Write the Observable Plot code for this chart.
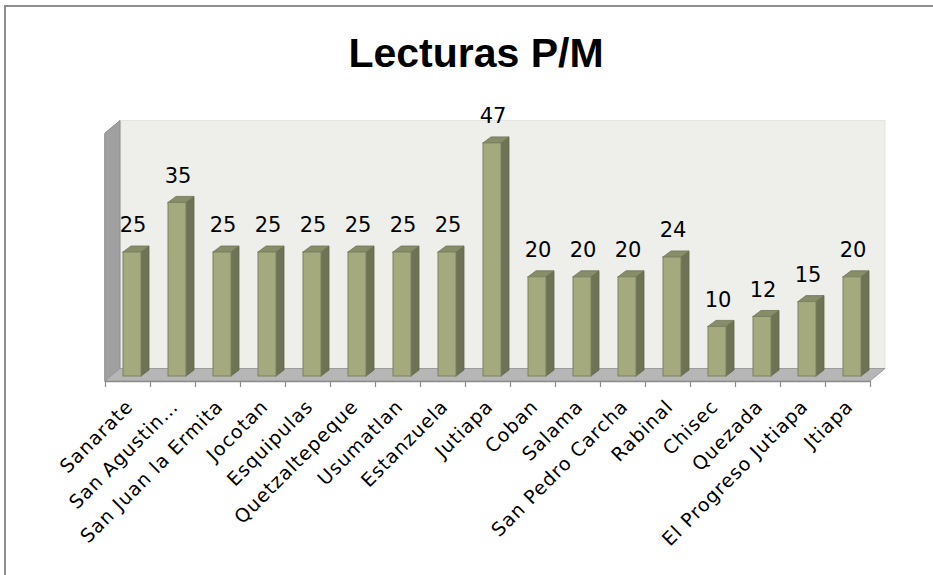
<!DOCTYPE html>
<html><head><meta charset="utf-8">
<script src="https://cdn.jsdelivr.net/npm/d3@7"></script>
<script src="https://cdn.jsdelivr.net/npm/@observablehq/plot@0.6"></script>
<style>
html,body{margin:0;padding:0;background:#fff;overflow:hidden;width:933px;height:575px;}
#vline{position:absolute;left:4px;top:5px;width:2px;height:570px;background:#8e8e8e;}
#hline{position:absolute;left:4px;top:5px;width:929px;height:2px;background:#8e8e8e;}
#title{height:90px;position:relative;}
#title span{position:absolute;left:0;width:952px;text-align:center;top:33px;font:bold 41px/41px "Liberation Sans",Arial,sans-serif;color:#000;white-space:nowrap;}
#chart svg{display:block;}
</style></head><body>
<div id="vline"></div><div id="hline"></div>
<div id="title"><span>Lecturas P/M</span></div>
<div id="chart"></div>
<script>
const categories = ["Sanarate","San Agustin…","San Juan la Ermita","Jocotan","Esquipulas","Quetzaltepeque","Usumatlan","Estanzuela","Jutiapa","Coban","Salama","San Pedro Carcha","Rabinal","Chisec","Quezada","El Progreso Jutiapa","Jtiapa"];
const values = [25,35,25,25,25,25,25,25,47,20,20,20,24,10,12,15,20];
const yMax = 50;

const W = 933, H = 485;
const X0 = 105, X1 = 870, Y0 = 291, YTOP = 43;
const n = categories.length;
const kx = (X1 - X0) / n;
const ky = (Y0 - YTOP) / yMax;
const px2x = p => p / kx, px2y = p => p / ky;

const wallDX = px2x(15), wallDY = px2y(12.5);
const barBase = px2y(5);
const barL = px2x(-4.5), barR = px2x(13.5);
const sideDX = px2x(8), sideDY = px2y(6);

const bars = categories.map((c, i) => ({c, v: values[i], i, xl: i + 0.5 + barL, xr: i + 0.5 + barR, y0: barBase, y1: barBase + values[i]}));
const floor = [{y: 0, x1: 0, x2: n}, {y: wallDY, x1: wallDX, x2: n + wallDX}];
const leftWall = [{x: 0, y1: 0, y2: yMax}, {x: wallDX, y1: wallDY, y2: yMax + wallDY}];
const backWall = [{x1: wallDX, x2: n + wallDX, y1: wallDY, y2: yMax + wallDY}];
const sides = bars.flatMap(b => [{z: b.i, x: b.xr, y1: b.y0, y2: b.y1}, {z: b.i, x: b.xr + sideDX, y1: b.y0 + sideDY, y2: b.y1 + sideDY}]);
const tops = bars.flatMap(b => [{z: b.i, y: b.y1, x1: b.xl, x2: b.xr}, {z: b.i, y: b.y1 + sideDY, x1: b.xl + sideDX, x2: b.xr + sideDX}]);
const ticks = d3.range(n + 1);

const chart = Plot.plot({
  width: W, height: H,
  marginLeft: X0, marginRight: W - X1, marginTop: YTOP, marginBottom: H - Y0,
  x: {type: "linear", domain: [0, n], axis: null},
  y: {domain: [0, yMax], axis: null},
  style: {background: "transparent", overflow: "visible"},
  marks: [
    Plot.rect(backWall, {x1: "x1", x2: "x2", y1: "y1", y2: "y2", fill: "#eeefea", stroke: "#e4e5e0"}),
    Plot.areaY(leftWall, {x: "x", y1: "y1", y2: "y2", fill: "#a0a0a0", stroke: "#8c8c8c"}),
    Plot.areaX(floor, {y: "y", x1: "x1", x2: "x2", fill: "#b6b6b6", stroke: "#9c9c9c"}),
    Plot.ruleY([0], {x1: 0, x2: n, stroke: "#8c8c8c", strokeWidth: 1.5}),
    Plot.ruleX(ticks, {x: d => d, y1: 0, y2: -px2y(6), stroke: "#8c8c8c", strokeWidth: 1.2}),
    Plot.areaY(sides, {x: "x", y1: "y1", y2: "y2", z: "z", fill: "#6d7354", stroke: "#60664a", strokeWidth: 0.8}),
    Plot.areaX(tops, {y: "y", x1: "x1", x2: "x2", z: "z", fill: "#878d69", stroke: "#6e7455", strokeWidth: 0.8}),
    Plot.rect(bars, {x1: "xl", x2: "xr", y1: "y0", y2: "y1", fill: "#a4aa7e", stroke: "#7b8160", strokeWidth: 1}),
    Plot.text(bars, {x: d => d.i + 0.5, y: "y1", text: d => String(d.v), dx: 5, dy: -27, fontSize: 21, fontFamily: "DejaVu Sans", fill: "#000"}),
    Plot.text(bars, {x: d => d.i + 0.5, y: 0, text: "c", rotate: -45, textAnchor: "end", dx: 2, dy: 22, fontSize: 19, fontFamily: "DejaVu Sans", fill: "#000"})
  ]
});
document.getElementById("chart").appendChild(chart);
const tg = d3.select(chart).selectAll('g[aria-label="text"]').nodes();
if (tg.length) d3.select(tg[tg.length - 1]).style("letter-spacing", "1px");
</script></body></html>
